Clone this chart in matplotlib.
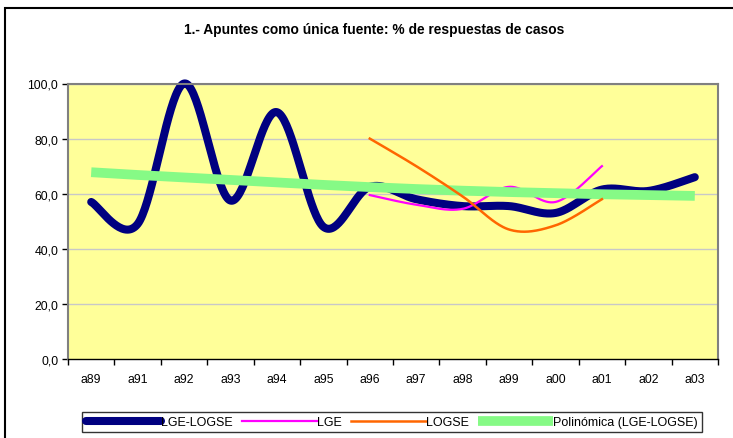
import numpy as np
import matplotlib
matplotlib.use('Agg')
import matplotlib.pyplot as plt
from matplotlib.lines import Line2D
from matplotlib.patches import Rectangle

plt.rcParams['font.family'] = ['Liberation Sans', 'DejaVu Sans']

categories = ['a89', 'a91', 'a92', 'a93', 'a94', 'a95', 'a96', 'a97',
              'a98', 'a99', 'a00', 'a01', 'a02', 'a03']
lge_logse = [57.0, 49.0, 100.0, 57.5, 89.6, 48.0, 62.5, 58.0, 55.5, 55.5,
             53.0, 61.5, 61.0, 66.0]
lge = [None] * 6 + [59.5, 56.0, 54.5, 62.5, 57.0, 70.0] + [None] * 2
logse = [None] * 6 + [80.0, 70.0, 59.0, 47.0, 48.5, 58.0] + [None] * 2
trend = [67.8, 66.8, 65.9, 65.0, 64.1, 63.2, 62.4, 61.7, 61.1, 60.6,
         60.2, 59.8, 59.5, 59.2]
yticks = [0, 20, 40, 60, 80, 100]
ytick_labels = ['0,0', '20,0', '40,0', '60,0', '80,0', '100,0']
title = '1.- Apuntes como única fuente: % de respuestas de casos'
series_names = ['LGE-LOGSE', 'LGE', 'LOGSE', 'Polinómica (LGE-LOGSE)']


def smooth(xs, ys, n=40):
    pts = [(x, y) for x, y in zip(xs, ys) if y is not None]
    P = np.array(pts, dtype=float)
    out = []
    m = len(P)
    for i in range(m - 1):
        p0 = P[max(i - 1, 0)]
        p1 = P[i]
        p2 = P[i + 1]
        p3 = P[min(i + 2, m - 1)]
        c1 = p1 + (p2 - p0) / 6.0
        c2 = p2 - (p3 - p1) / 6.0
        t = np.linspace(0, 1, n)[:, None]
        seg = ((1 - t) ** 3) * p1 + 3 * ((1 - t) ** 2) * t * c1 + \
            3 * (1 - t) * (t ** 2) * c2 + (t ** 3) * p2
        out.append(seg if i == 0 else seg[1:])
    S = np.vstack(out)
    return S[:, 0], S[:, 1]


W, H = 733, 439
fig = plt.figure(figsize=(W / 100, H / 100), dpi=100)
fig.patch.set_facecolor('white')
ax = fig.add_axes([68 / W, 1 - 360 / H, (718 - 68) / W, (360 - 84.5) / H])
ax.set_facecolor('#FFFF99')

x = np.arange(len(categories))
ax.set_xlim(-0.5, len(categories) - 0.5)
ax.set_ylim(0, 100)

for yv in yticks[1:]:
    ax.axhline(yv, color='#C8C8C8', lw=1.0, zorder=1)

sx, sy = smooth(x, lge_logse)
ax.plot(sx, sy, color='#000080', lw=5.8, solid_capstyle='round', zorder=2,
        clip_on=False)
sx, sy = smooth(x, lge)
ax.plot(sx, sy, color='#FF00FF', lw=1.6, zorder=2.5)
ax.plot(x, trend, color='#86FA86', lw=7.0, solid_capstyle='butt', zorder=3)
sx, sy = smooth(x, logse)
ax.plot(sx, sy, color='#FF6600', lw=1.8, zorder=4)

ax.set_yticks(yticks)
ax.set_yticklabels(ytick_labels, fontsize=8.8)
ax.set_xticks(x)
ax.set_xticklabels(categories, fontsize=8.8)
ax.set_xticks(np.arange(-0.5, len(categories), 1), minor=True)
ax.tick_params(axis='x', which='major', length=0, pad=10)
ax.tick_params(axis='x', which='minor', length=4, width=1, color='black',
               direction='out')
ax.tick_params(axis='y', length=4, width=1, color='black', pad=3)

for s in ['left', 'top', 'right']:
    ax.spines[s].set_color('#808080')
    ax.spines[s].set_linewidth(1.5)
ax.spines['bottom'].set_color('black')
ax.spines['bottom'].set_linewidth(1.0)

fig.text(374 / W, 1 - 30 / H, title, ha='center', va='center',
         fontsize=9.9, fontweight='bold')

handles = [
    Line2D([0], [0], color='#000080', lw=5.8, solid_capstyle='round'),
    Line2D([0], [0], color='#FF00FF', lw=1.6),
    Line2D([0], [0], color='#FF6600', lw=1.8),
    Line2D([0], [0], color='#86FA86', lw=7.0, solid_capstyle='butt'),
]
leg = fig.legend(handles, series_names, loc='center',
                 bbox_to_anchor=(392 / W, 1 - 423 / H), ncol=4,
                 fontsize=9.0, frameon=True, fancybox=False,
                 handlelength=6.0, handletextpad=0.0, columnspacing=0.75,
                 borderpad=0.35, borderaxespad=0)
leg.get_frame().set_edgecolor('black')
leg.get_frame().set_linewidth(1.0)

fig.add_artist(Rectangle((5 / W, -0.05), 1.2, 1 - 9 / H + 0.05, fill=False,
                         ec='black', lw=1.5, transform=fig.transFigure))

fig.savefig('out.png', dpi=100)
